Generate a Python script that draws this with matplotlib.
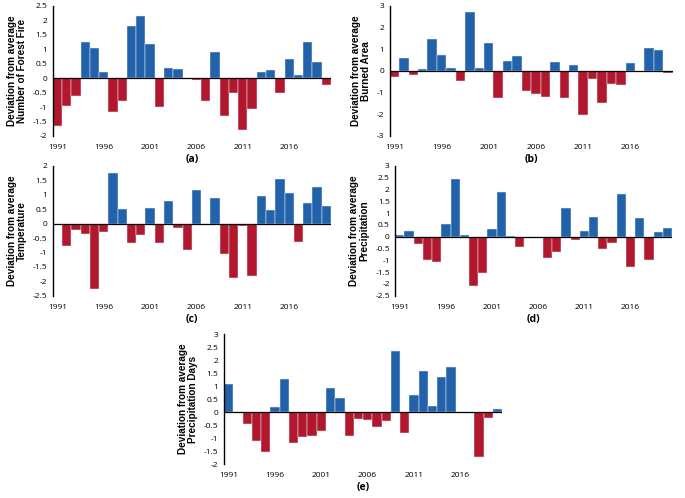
import numpy as np
import matplotlib
matplotlib.use("Agg")
import matplotlib.pyplot as plt
from matplotlib.ticker import FormatStrFormatter, MultipleLocator

plt.rcParams["axes.unicode_minus"] = False

years = list(range(1991, 2021))
year_labels = [str(y) for y in years if (y - 1991) % 5 == 0]

forest_fire = [-1.65, -0.95, -0.62, 1.25, 1.05, 0.2, -1.17, -0.8, 1.82, 2.15,
               1.17, -1.0, 0.35, 0.33, 0.0, -0.05, -0.78, 0.9, -1.32, -0.52,
               -1.8, -1.07, 0.2, 0.28, -0.52, 0.68, 0.12, 1.27, 0.57, -0.25]
burned_area = [-0.28, 0.6, -0.2, 0.1, 1.48, 0.75, 0.12, -0.45, 2.72, 0.12,
               1.3, -1.25, 0.48, 0.7, -0.92, -1.05, -1.22, 0.4, -1.27, 0.28,
               -2.02, -0.35, -1.47, -0.62, -0.65, 0.38, 0.0, 1.05, 0.98, -0.08]
temperature = [-0.03, -0.78, -0.22, -0.35, -2.25, -0.3, 1.75, 0.5, -0.68, -0.4,
               0.55, -0.68, 0.78, -0.15, -0.9, 1.18, 0.0, 0.87, -1.05, -1.88,
               -0.1, -1.82, 0.95, 0.48, 1.55, 1.05, -0.62, 0.73, 1.28, 0.6]
precipitation = [0.08, 0.25, -0.3, -0.97, -1.07, 0.55, 2.45, 0.08, -2.1, -1.52,
                 0.32, 1.9, 0.02, -0.42, 0.0, 0.0, -0.92, -0.65, 1.23, -0.15,
                 0.25, 0.82, -0.52, -0.27, 1.82, -1.3, 0.8, -0.98, 0.18, 0.38]
precip_days = [1.07, 0.02, -0.47, -1.12, -1.52, 0.2, 1.28, -1.18, -0.95, -0.9,
               -0.72, 0.93, 0.55, -0.92, -0.27, -0.3, -0.57, -0.33, 2.35, -0.8,
               0.67, 1.6, 0.25, 1.35, 1.72, 0.0, -0.05, -1.72, -0.22, 0.12]

BLUE = "#2162ab"
RED = "#b2182d"

panels = [
    # data, ylabel, tag, ylim, step, [left, bottom, width, height]
    (forest_fire, "Deviation from average\nNumber of Forest Fire", "(a)", (-2, 2.5), 0.5,
     [0.077, 0.727, 0.406, 0.261]),
    (burned_area, "Deviation from average\nBurned Area", "(b)", (-3, 3), 1,
     [0.569, 0.727, 0.413, 0.261]),
    (temperature, "Deviation from average\nTemperature", "(c)", (-2.5, 2), 0.5,
     [0.077, 0.406, 0.406, 0.261]),
    (precipitation, "Deviation from average\nPrecipitation", "(d)", (-2.5, 3), 0.5,
     [0.577, 0.406, 0.404, 0.261]),
    (precip_days, "Deviation from average\nPrecipitation Days", "(e)", (-2, 3), 0.5,
     [0.327, 0.068, 0.406, 0.261]),
]

fig = plt.figure(figsize=(6.85, 4.98), dpi=100)

for data, ylabel, tag, ylim, step, rect in panels:
    ax = fig.add_axes(rect)
    vals = np.array(data)
    x = np.arange(len(vals))
    colors = [BLUE if v >= 0 else RED for v in vals]
    ax.bar(x, vals, width=1.0, color=colors, edgecolor="#e6ecf3", linewidth=0.35)
    ax.axhline(0, color="black", linewidth=0.9)
    ax.set_xlim(-0.5, len(vals) - 0.5)
    ax.set_ylim(*ylim)
    ax.yaxis.set_major_locator(MultipleLocator(step))
    ax.yaxis.set_major_formatter(FormatStrFormatter("%g"))
    ax.set_xticks(x[::5])
    ax.set_xticklabels(year_labels)
    for s in ["top", "right", "bottom"]:
        ax.spines[s].set_visible(False)
    ax.spines["left"].set_linewidth(1.0)
    ax.tick_params(axis="both", length=0, labelsize=6, pad=4)
    ax.tick_params(axis="x", pad=6)
    for lbl in ax.get_xticklabels() + ax.get_yticklabels():
        lbl.set_fontfamily("Open Sans")
    ax.set_ylabel(ylabel, fontsize=7.2, fontweight="bold", family="Liberation Sans",
                  linespacing=1.05, labelpad=4)
    ax.set_xlabel(tag, fontsize=7.5, fontweight="bold", family="Open Sans", labelpad=2)

fig.savefig("out.png", dpi=100)
